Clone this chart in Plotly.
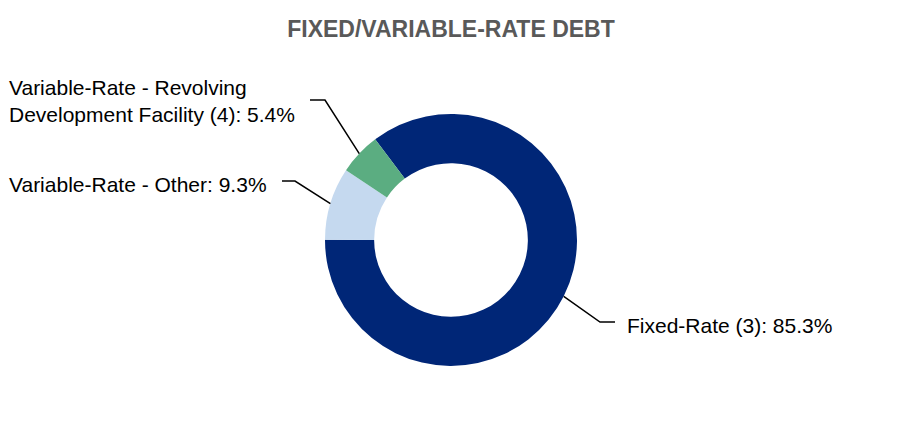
import math
import plotly.graph_objects as go

# data
labels = ["Fixed-Rate (3)", "Variable-Rate - Other", "Variable-Rate - Revolving Development Facility (4)"]
shares = [85.3, 9.3, 5.4]
label_text = ["Fixed-Rate (3): 85.3%", "Variable-Rate - Other: 9.3%",
              "Variable-Rate - Revolving<br>Development Facility (4): 5.4%"]
colors = ["#002677", "#c5d9ef", "#5bad81"]

W, H = 902, 422
OFF = 8  # page body margin
cx, cy, r = 451, 240, 126
rotation = 323

# label placement (pixels): text x, text center y, anchor, elbow x, line end x, line y
label_pos = [
    dict(x=625, y=325, anchor="left", elbow=600, end=615, ly=322),
    dict(x=7, y=184, anchor="left", elbow=295, end=282, ly=181),
    dict(x=7, y=101, anchor="left", elbow=325, end=310, ly=100),
]


def px(x):
    return (x - OFF) / W


def py(y):
    return 1 - (y - OFF) / H


fig = go.Figure(go.Pie(
    labels=labels, values=shares, sort=False, direction="clockwise",
    rotation=rotation, hole=0.61, textinfo="none", hoverinfo="label+percent",
    marker=dict(colors=colors, line=dict(width=0)),
    domain=dict(x=[px(cx - r), px(cx + r)], y=[py(cy + r), py(cy - r)]),
    showlegend=False,
))

font = dict(family="Liberation Sans, Arial, sans-serif", size=21, color="#000000")
total = sum(shares)
start = rotation
for val, txt, p in zip(shares, label_text, label_pos):
    mid = math.radians(start + 360 * val / total / 2)
    start += 360 * val / total
    x0 = cx + r * math.sin(mid)
    y0 = cy - r * math.cos(mid)
    fig.add_shape(type="path", xref="paper", yref="paper",
                  path=f"M {px(x0)},{py(y0)} L {px(p['elbow'])},{py(p['ly'])} L {px(p['end'])},{py(p['ly'])}",
                  line=dict(color="black", width=1.5))
    lines = txt.split("<br>")
    for i, ln in enumerate(lines):
        yy = p["y"] + (i - (len(lines) - 1) / 2) * 27
        fig.add_annotation(text=ln, xref="paper", yref="paper", x=px(p["x"]), y=py(yy),
                           xanchor=p["anchor"], yanchor="middle", showarrow=False, font=font)

fig.update_layout(
    width=W, height=H,
    margin=dict(l=0, r=0, t=0, b=0),
    paper_bgcolor="white", plot_bgcolor="white",
    title=dict(text="<b>FIXED/VARIABLE-RATE DEBT</b>", x=px(451), xanchor="center",
               y=py(29), yanchor="middle",
               font=dict(family="Liberation Sans, Arial, sans-serif", size=23, color="#595959")),
)

fig.write_html("out.html")
